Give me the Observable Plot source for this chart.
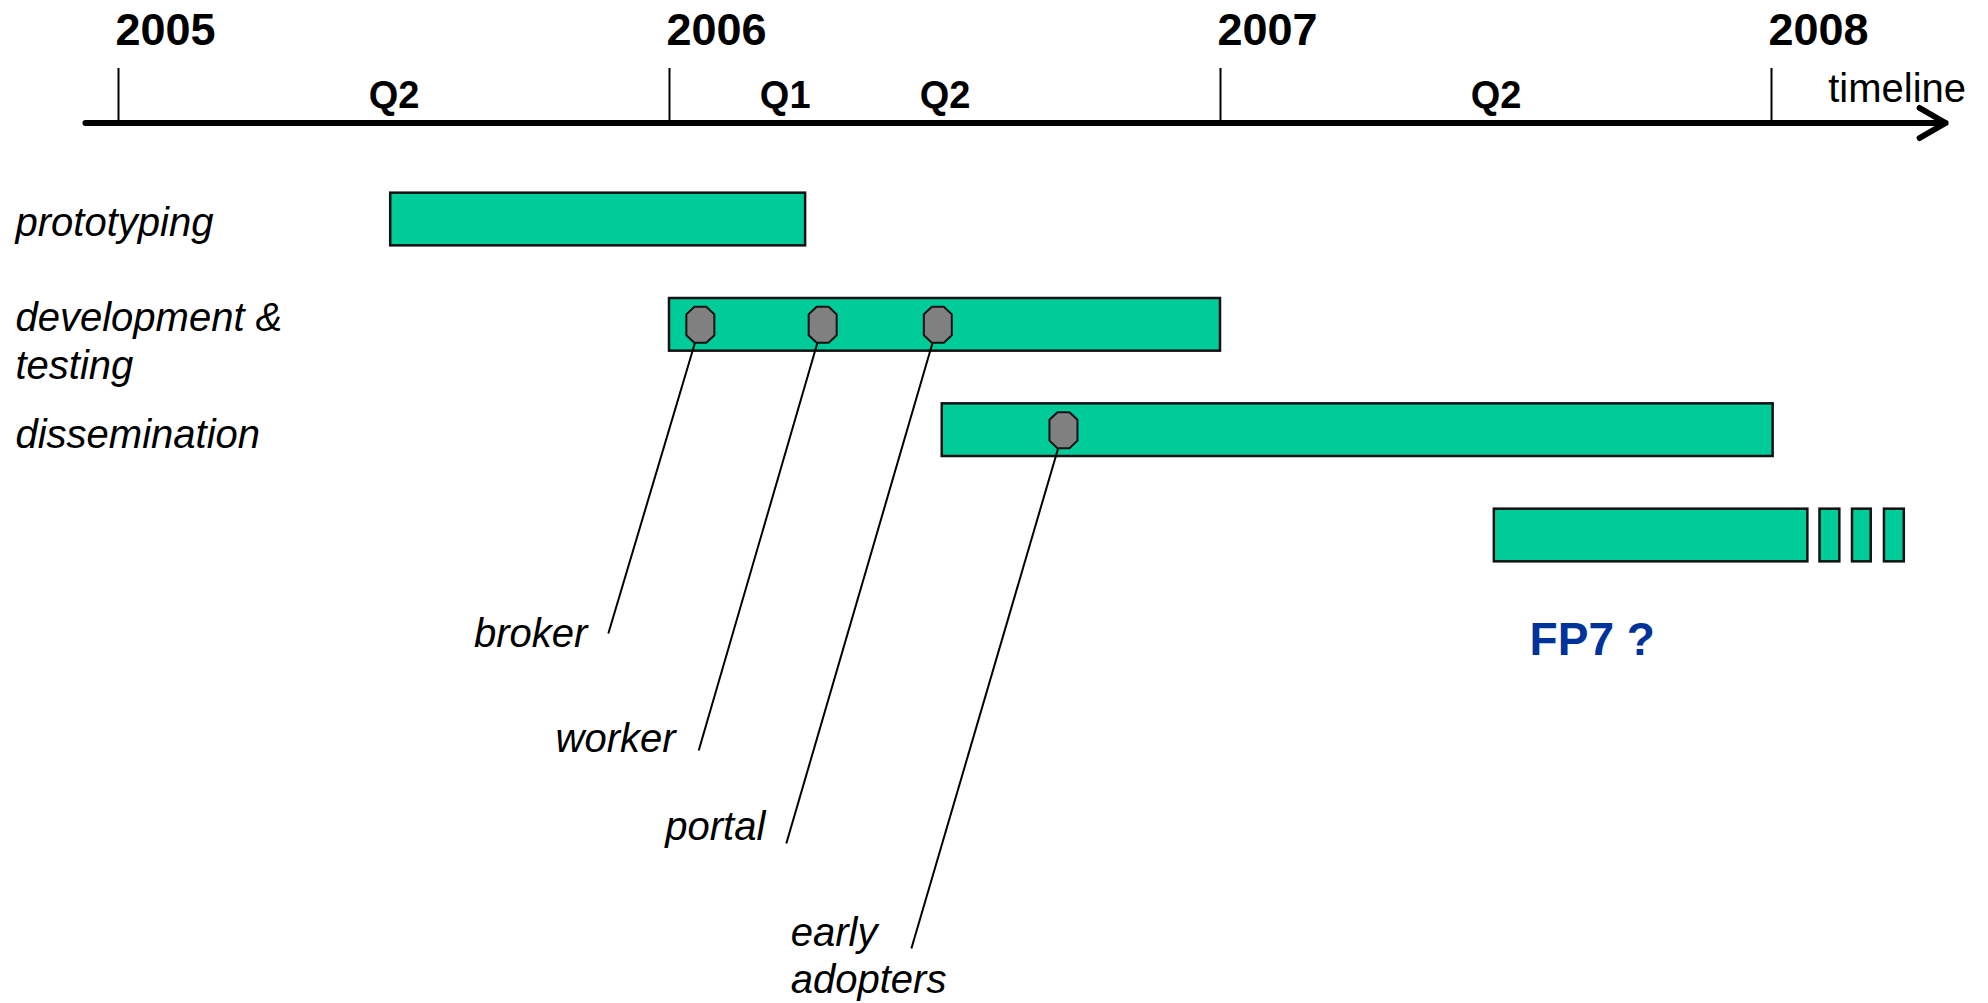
<!DOCTYPE html>
<html>
<head>
<meta charset="utf-8">
<script src="https://cdn.jsdelivr.net/npm/d3@7"></script>
<script src="https://cdn.jsdelivr.net/npm/@observablehq/plot@0.6"></script>
<style>
html, body { margin: 0; padding: 0; background: #fff; overflow: hidden; }
</style>
</head>
<body>
<div id="chart"></div>
<script>
// ---------- data ----------
const years = [2005, 2006, 2007, 2008];
const quarterLabels = ["Q2", "Q1", "Q2", "Q2"];
const quarterPos = [2005.5, 2006.21, 2006.5, 2007.5];

const phases = ["prototyping", "development & testing", "dissemination", "FP7"];
const phaseLane = [0, 1, 2, 3];
const phaseStart = [2005.494, 2006.0, 2006.495, 2007.497];
const phaseEnd = [2006.247, 2007.0, 2008.003, 2008.066];

const extStart = [2008.088, 2008.147, 2008.205];
const extEnd = [2008.124, 2008.181, 2008.241];

const rowLabels = ["prototyping", "development &\ntesting", "dissemination"];
const rowLabelLane = [0.152, 1.51, 2.174];

const milestones = ["broker", "worker", "portal", "early\nadopters"];
const milestoneYear = [2006.056, 2006.278, 2006.487, 2006.715];
const milestoneLane = [1, 1, 1, 2];
const leaderEndYear = [2005.889, 2006.053, 2006.212, 2006.439];
const leaderEndLane = [3.93, 5.041, 5.924, 6.921];
const labelYear = [2005.851, 2006.011, 2006.174, 2006.22];
const labelLane = [4.063, 5.06, 5.895, 7.348];
const labelSide = ["left", "left", "left", "right"];

const futureLabel = "FP7 ?";
const futureYear = 2007.561;
const futureLane = 4.13;

const axisLabel = "timeline";
const axisStart = 2004.94;
const axisEnd = 2008.316;

// ---------- tables ----------
const quarters = quarterLabels.map((q, i) => ({label: q, pos: quarterPos[i]}));
const bars = phases.map((p, i) => ({name: p, lane: phaseLane[i], start: phaseStart[i], end: phaseEnd[i]}));
const exts = extStart.map((s, i) => ({start: s, end: extEnd[i], lane: 3}));
const rows = rowLabels.map((r, i) => ({label: r, lane: rowLabelLane[i]}));
const ms = milestones.map((m, i) => ({
  name: m, x: milestoneYear[i], lane: milestoneLane[i],
  ex: leaderEndYear[i], el: leaderEndLane[i],
  lx: labelYear[i], ll: labelLane[i], side: labelSide[i]
}));

// ---------- layout constants ----------
const FONT = '"Liberation Sans", Arial, Helvetica, sans-serif';
const AXIS_LANE = -0.916;
const TICK_TOP = -1.434;
const YEAR_BASE = -1.652;
const Q_BASE = -1.054;
const TIMELINE_BASE = -1.12;
const HALF = 0.25;

const octagon = {
  draw(ctx) {
    const w = 14, h = 18, cx = 8, cy = 7.5;
    ctx.moveTo(-w + cx, -h);
    ctx.lineTo(w - cx, -h);
    ctx.lineTo(w, -h + cy);
    ctx.lineTo(w, h - cy);
    ctx.lineTo(w - cx, h);
    ctx.lineTo(-w + cx, h);
    ctx.lineTo(-w, h - cy);
    ctx.lineTo(-w, -h + cy);
    ctx.closePath();
  }
};

const chart = Plot.plot({
  width: 1988,
  height: 1003,
  margin: 0,
  x: {type: "linear", domain: [2005, 2008], range: [118, 1771], axis: null},
  y: {type: "linear", domain: [0, 3], range: [219, 535], axis: null},
  style: {fontFamily: FONT, background: "#fff"},
  marks: [
    Plot.arrow([0], {
      x1: axisStart, x2: axisEnd, y1: AXIS_LANE, y2: AXIS_LANE,
      stroke: "black", strokeWidth: 6, headLength: 7.5, headAngle: 60
    }),
    Plot.ruleX(years, {x: d => d, y1: TICK_TOP, y2: AXIS_LANE, stroke: "black", strokeWidth: 2}),
    Plot.text(years, {
      x: d => d, y: YEAR_BASE, text: d => String(d), textAnchor: "start", lineAnchor: "bottom",
      dx: -3, fontSize: 45, fontWeight: "bold", fontFamily: FONT, fill: "black"
    }),
    Plot.text(quarters, {
      x: "pos", y: Q_BASE, text: "label", textAnchor: "middle", lineAnchor: "bottom",
      fontSize: 38, fontWeight: "bold", fontFamily: FONT, fill: "black"
    }),
    Plot.text([axisLabel], {
      x: 2008.103, y: TIMELINE_BASE, text: d => d, textAnchor: "start", lineAnchor: "bottom",
      fontSize: 40, fontFamily: FONT, fill: "black"
    }),
    Plot.rect(bars, {
      x1: "start", x2: "end", y1: d => d.lane - HALF, y2: d => d.lane + HALF,
      fill: "#00CC99", stroke: "#111", strokeWidth: 2.5
    }),
    Plot.rect(exts, {
      x1: "start", x2: "end", y1: d => d.lane - HALF, y2: d => d.lane + HALF,
      fill: "#00CC99", stroke: "#111", strokeWidth: 2.5
    }),
    Plot.text(rows, {
      x: 2004.813, y: "lane", text: "label", textAnchor: "start", lineAnchor: "bottom",
      lineHeight: 1.2, fontSize: 40, fontStyle: "italic", fontFamily: FONT, fill: "black"
    }),
    Plot.link(ms, {x1: "x", y1: "lane", x2: "ex", y2: "el", stroke: "black", strokeWidth: 2}),
    Plot.dot(ms, {x: "x", y: "lane", symbol: octagon, fill: "#808080", stroke: "#111", strokeWidth: 2}),
    Plot.text(ms.filter(d => d.side === "left"), {
      x: "lx", y: "ll", text: "name", textAnchor: "end", lineAnchor: "bottom",
      fontSize: 40, fontStyle: "italic", fontFamily: FONT, fill: "black"
    }),
    Plot.text(ms.filter(d => d.side === "right"), {
      x: "lx", y: "ll", text: "name", textAnchor: "start", lineAnchor: "bottom",
      lineHeight: 1.175, fontSize: 40, fontStyle: "italic", fontFamily: FONT, fill: "black"
    }),
    Plot.text([futureLabel], {
      x: futureYear, y: futureLane, text: d => d, textAnchor: "start", lineAnchor: "bottom",
      fontSize: 46, fontWeight: "bold", fontFamily: FONT, fill: "#003399"
    })
  ]
});

document.getElementById("chart").appendChild(chart);
</script>
</body>
</html>
